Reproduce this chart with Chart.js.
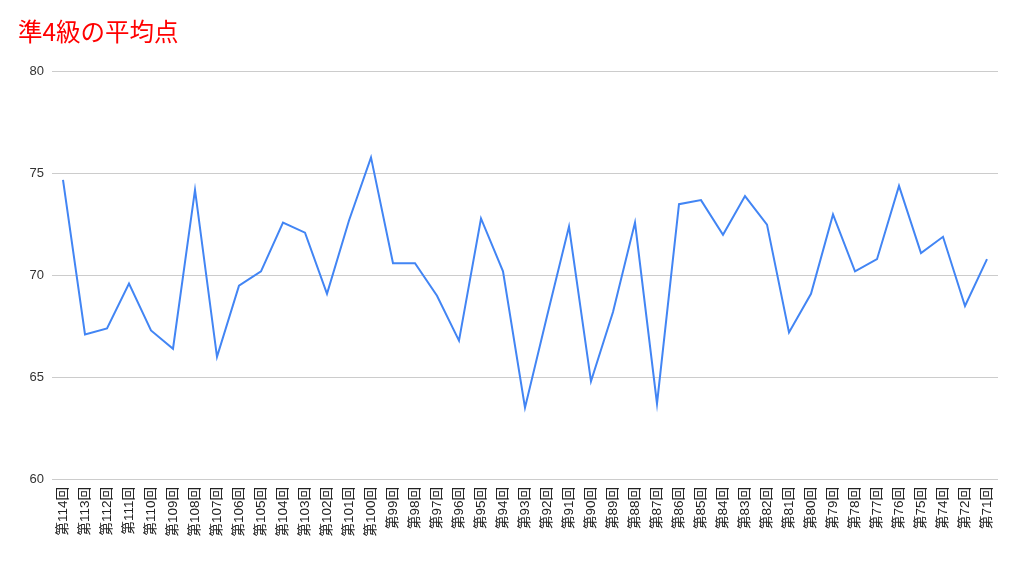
<!DOCTYPE html>
<html>
<head>
<meta charset="utf-8">
<script src="https://cdn.jsdelivr.net/npm/chart.js@4"></script>
<style>
  html, body { margin: 0; padding: 0; background: #fff; }
  #wrap { width: 1017px; height: 561px; position: relative; }
</style>
</head>
<body>
<div id="wrap"><canvas id="lineChart"></canvas></div>
<script>
// 回 labels (第73回 is not in the chart)
const rounds = ['第114回', '第113回', '第112回', '第111回', '第110回', '第109回', '第108回', '第107回', '第106回', '第105回',
    '第104回', '第103回', '第102回', '第101回', '第100回', '第99回', '第98回', '第97回', '第96回', '第95回',
    '第94回', '第93回', '第92回', '第91回', '第90回', '第89回', '第88回', '第87回', '第86回', '第85回',
    '第84回', '第83回', '第82回', '第81回', '第80回', '第79回', '第78回', '第77回', '第76回', '第75回',
    '第74回', '第72回', '第71回'];

// average score per round
const averages = [74.7, 67.1, 67.4, 69.6, 67.3, 66.4, 74.2, 66.0, 69.5, 70.2,
    72.6, 72.1, 69.1, 72.7, 75.8, 70.6, 70.6, 69.0, 66.8, 72.8,
    70.2, 63.5, 68.0, 72.4, 64.8, 68.2, 72.6, 63.7, 73.5, 73.7,
    72.0, 73.9, 72.5, 67.2, 69.1, 73.0, 70.2, 70.8, 74.4, 71.1,
    71.9, 68.5, 70.8];

const yTicks = [60, 65, 70, 75, 80];

const fontFamily = "Arial, 'Liberation Sans', 'Noto Sans CJK JP', sans-serif";

const ctx = document.getElementById('lineChart').getContext('2d');

new Chart(ctx, {
    type: 'line',
    data: {
        labels: rounds,
        datasets: [
            {
                label: '平均点',
                data: averages,
                borderColor: '#4285f4',
                borderWidth: 2,
                pointRadius: 0,
                tension: 0,
                fill: false,
            },
        ],
    },
    options: {
        responsive: true,
        maintainAspectRatio: false,
        animation: false,
        layout: {
            padding: { top: 17, right: 19, bottom: 0, left: 18 },
        },
        plugins: {
            legend: { display: false },
            tooltip: { enabled: false },
            title: {
                display: true,
                text: '準4級の平均点',
                align: 'start',
                color: '#ff0000',
                font: { family: "'Noto Sans CJK JP', sans-serif", size: 24.5, weight: 'normal' },
                padding: { top: 0, bottom: 25.5 },
            },
        },
        scales: {
            x: {
                offset: true,
                grid: { display: false, drawTicks: false },
                border: { display: false },
                ticks: {
                    autoSkip: false,
                    minRotation: 90,
                    maxRotation: 90,
                    padding: 8,
                    color: '#222',
                    font: { family: fontFamily, size: 13.5 },
                },
                afterFit: (scale) => { scale.height = 82; },
            },
            y: {
                min: 60,
                max: 80,
                afterBuildTicks: (scale) => { scale.ticks = yTicks.map(v => ({ value: v })); },
                grid: { color: '#cccccc', drawTicks: false },
                border: { display: false },
                ticks: {
                    padding: 8,
                    color: '#333',
                    font: { family: fontFamily, size: 13 },
                },
                afterFit: (scale) => { scale.width = 34; },
            },
        },
    },
});
</script>
</body>
</html>
